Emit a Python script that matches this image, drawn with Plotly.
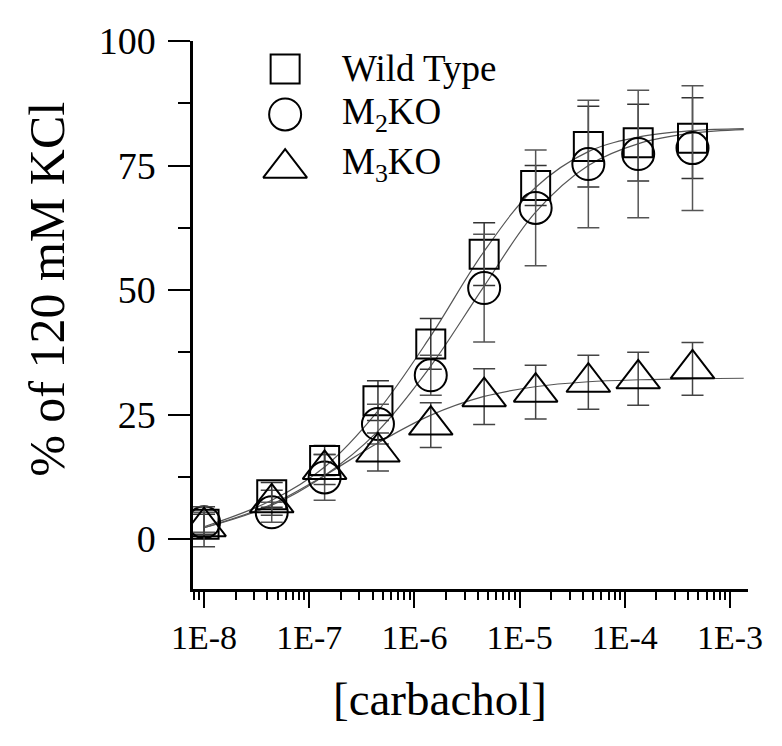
import plotly.graph_objects as go

# ---- data ----
conc = [1e-8, 4.4e-8, 1.4e-7, 4.5e-7, 1.43e-6, 4.6e-6, 1.42e-5, 4.5e-5, 1.34e-4, 4.4e-4]

wt_mean = [3.0, 8.9, 15.8, 27.8, 39.2, 57.2, 71.0, 78.8, 79.6, 80.5]
wt_err = [2.0, 2.5, 3.0, 4.0, 5.1, 6.3, 4.0, 8.1, 7.7, 8.1]

m2_mean = [3.4, 5.4, 12.4, 23.1, 32.9, 50.4, 66.5, 75.3, 77.3, 78.5]
m2_err = [2.0, 2.0, 4.6, 4.0, 4.0, 10.8, 11.6, 12.8, 12.8, 12.5]

m3_mean = [2.5, 7.3, 14.0, 17.5, 22.9, 28.6, 29.5, 31.5, 32.2, 34.2]
m3_err = [4.0, 2.5, 3.0, 3.8, 4.5, 5.6, 5.4, 5.4, 5.3, 5.3]

# fitted curves
fit_x = [1e-8, 4.4e-8, 1.4e-7, 4.4e-7, 1.4e-6, 4.5e-6, 1.4e-5, 4.5e-5, 1.4e-4, 4.4e-4, 1.35e-3]
wt_fit = [2.5, 7.8, 14.5, 25.5, 40.5, 57.5, 70.5, 77.8, 80.8, 82.0, 82.4]
m2_fit = [2.3, 6.8, 12.8, 21.5, 34.5, 50.5, 65.5, 75.0, 79.5, 81.5, 82.2]
m3_fit = [2.3, 7.0, 12.8, 19.2, 24.8, 28.6, 30.6, 31.6, 32.0, 32.2, 32.3]

x_tickvals = [1e-8, 1e-7, 1e-6, 1e-5, 1e-4, 1e-3]
x_ticktext = ["1E-8", "1E-7", "1E-6", "1E-5", "1E-4", "1E-3"]
x_minor = [8e-9, 9e-9] + [m * 10.0 ** e for e in range(-8, -3) for m in range(2, 10)]
y_tickvals = [0, 25, 50, 75, 100]
y_minor = [12.5, 37.5, 62.5, 87.5]

series_names = ["Wild Type", "M<sub>2</sub>KO", "M<sub>3</sub>KO"]

FONT = "Liberation Serif, Times New Roman, serif"

fig = go.Figure()

# fit curves
for fy in (wt_fit, m2_fit, m3_fit):
    fig.add_trace(go.Scatter(
        x=fit_x, y=fy, mode="lines", line=dict(color="#555555", width=1.2, shape="spline"),
        showlegend=False, hoverinfo="skip"))

# data points
specs = [
    (wt_mean, wt_err, "square-open", 29, "#333333"),
    (m2_mean, m2_err, "circle-open", 32, "#555555"),
    (m3_mean, m3_err, "triangle-up-open", 38, "#444444"),
]
for (ym, ye, sym, sz, ecol), name in zip(specs, series_names):
    fig.add_trace(go.Scatter(
        x=conc, y=ym, mode="markers", name=name,
        marker=dict(symbol=sym, size=sz, color="black", line=dict(width=2, color="black")),
        error_y=dict(type="data", array=ye, visible=True, thickness=1.5, width=11, color=ecol),
        showlegend=False))

# manual legend (markers on an overlay axis in plot-area fractions)
leg_x = [0.166, 0.166, 0.166]
leg_y = [0.949, 0.866, 0.768]
for i, (ym, ye, sym, sz, ecol) in enumerate(specs):
    fig.add_trace(go.Scatter(
        x=[leg_x[i]], y=[leg_y[i]], xaxis="x2", yaxis="y2", mode="markers",
        marker=dict(symbol=sym, size=sz, color="black", line=dict(width=2, color="black")),
        showlegend=False, hoverinfo="skip"))
leg_text_y = [0.949, 0.866, 0.775]
for i, name in enumerate(series_names):
    fig.add_annotation(x=0.265, y=leg_text_y[i], xref="paper", yref="paper", text=name,
                       showarrow=False, xanchor="left", yanchor="middle",
                       font=dict(family=FONT, size=37, color="black"))

# axis titles
fig.add_annotation(x=-0.262, y=0.547, xref="paper", yref="paper", text="% of 120 mM KCl",
                   textangle=-90, showarrow=False, xanchor="center", yanchor="middle",
                   font=dict(family=FONT, size=50, color="black"))
fig.add_annotation(x=0.445, y=-0.2, xref="paper", yref="paper", text="[carbachol]",
                   showarrow=False, xanchor="center", yanchor="middle",
                   font=dict(family=FONT, size=47, color="black"))

fig.update_layout(
    width=782, height=746,
    margin=dict(l=185, r=42, t=27, b=165),
    paper_bgcolor="white", plot_bgcolor="white",
    font=dict(family=FONT, color="black"),
    showlegend=False,
    xaxis=dict(
        type="log", range=[-8.105, -2.829],
        tickmode="array", tickvals=x_tickvals, ticktext=x_ticktext,
        ticks="outside", ticklen=16, tickwidth=2, tickcolor="black",
        minor=dict(tickmode="array", tickvals=x_minor, ticks="outside", ticklen=8,
                   tickwidth=1.5, tickcolor="black", showgrid=False),
        showline=True, linecolor="black", linewidth=2.5,
        showgrid=False, zeroline=False,
        tickfont=dict(family=FONT, size=34, color="black"),
    ),
    yaxis=dict(
        range=[-10, 100],
        tickmode="array", tickvals=y_tickvals,
        ticks="outside", ticklen=22, tickwidth=2, tickcolor="black",
        minor=dict(tickmode="array", tickvals=y_minor, ticks="outside", ticklen=12,
                   tickwidth=2, tickcolor="black", showgrid=False),
        showline=True, linecolor="black", linewidth=2.5,
        showgrid=False, zeroline=False,
        ticklabelstandoff=5,
        tickfont=dict(family=FONT, size=38, color="black"),
    ),
    xaxis2=dict(overlaying="x", range=[0, 1], visible=False, fixedrange=True),
    yaxis2=dict(overlaying="y", range=[0, 1], visible=False, fixedrange=True),
)

fig.write_html("out.html")
